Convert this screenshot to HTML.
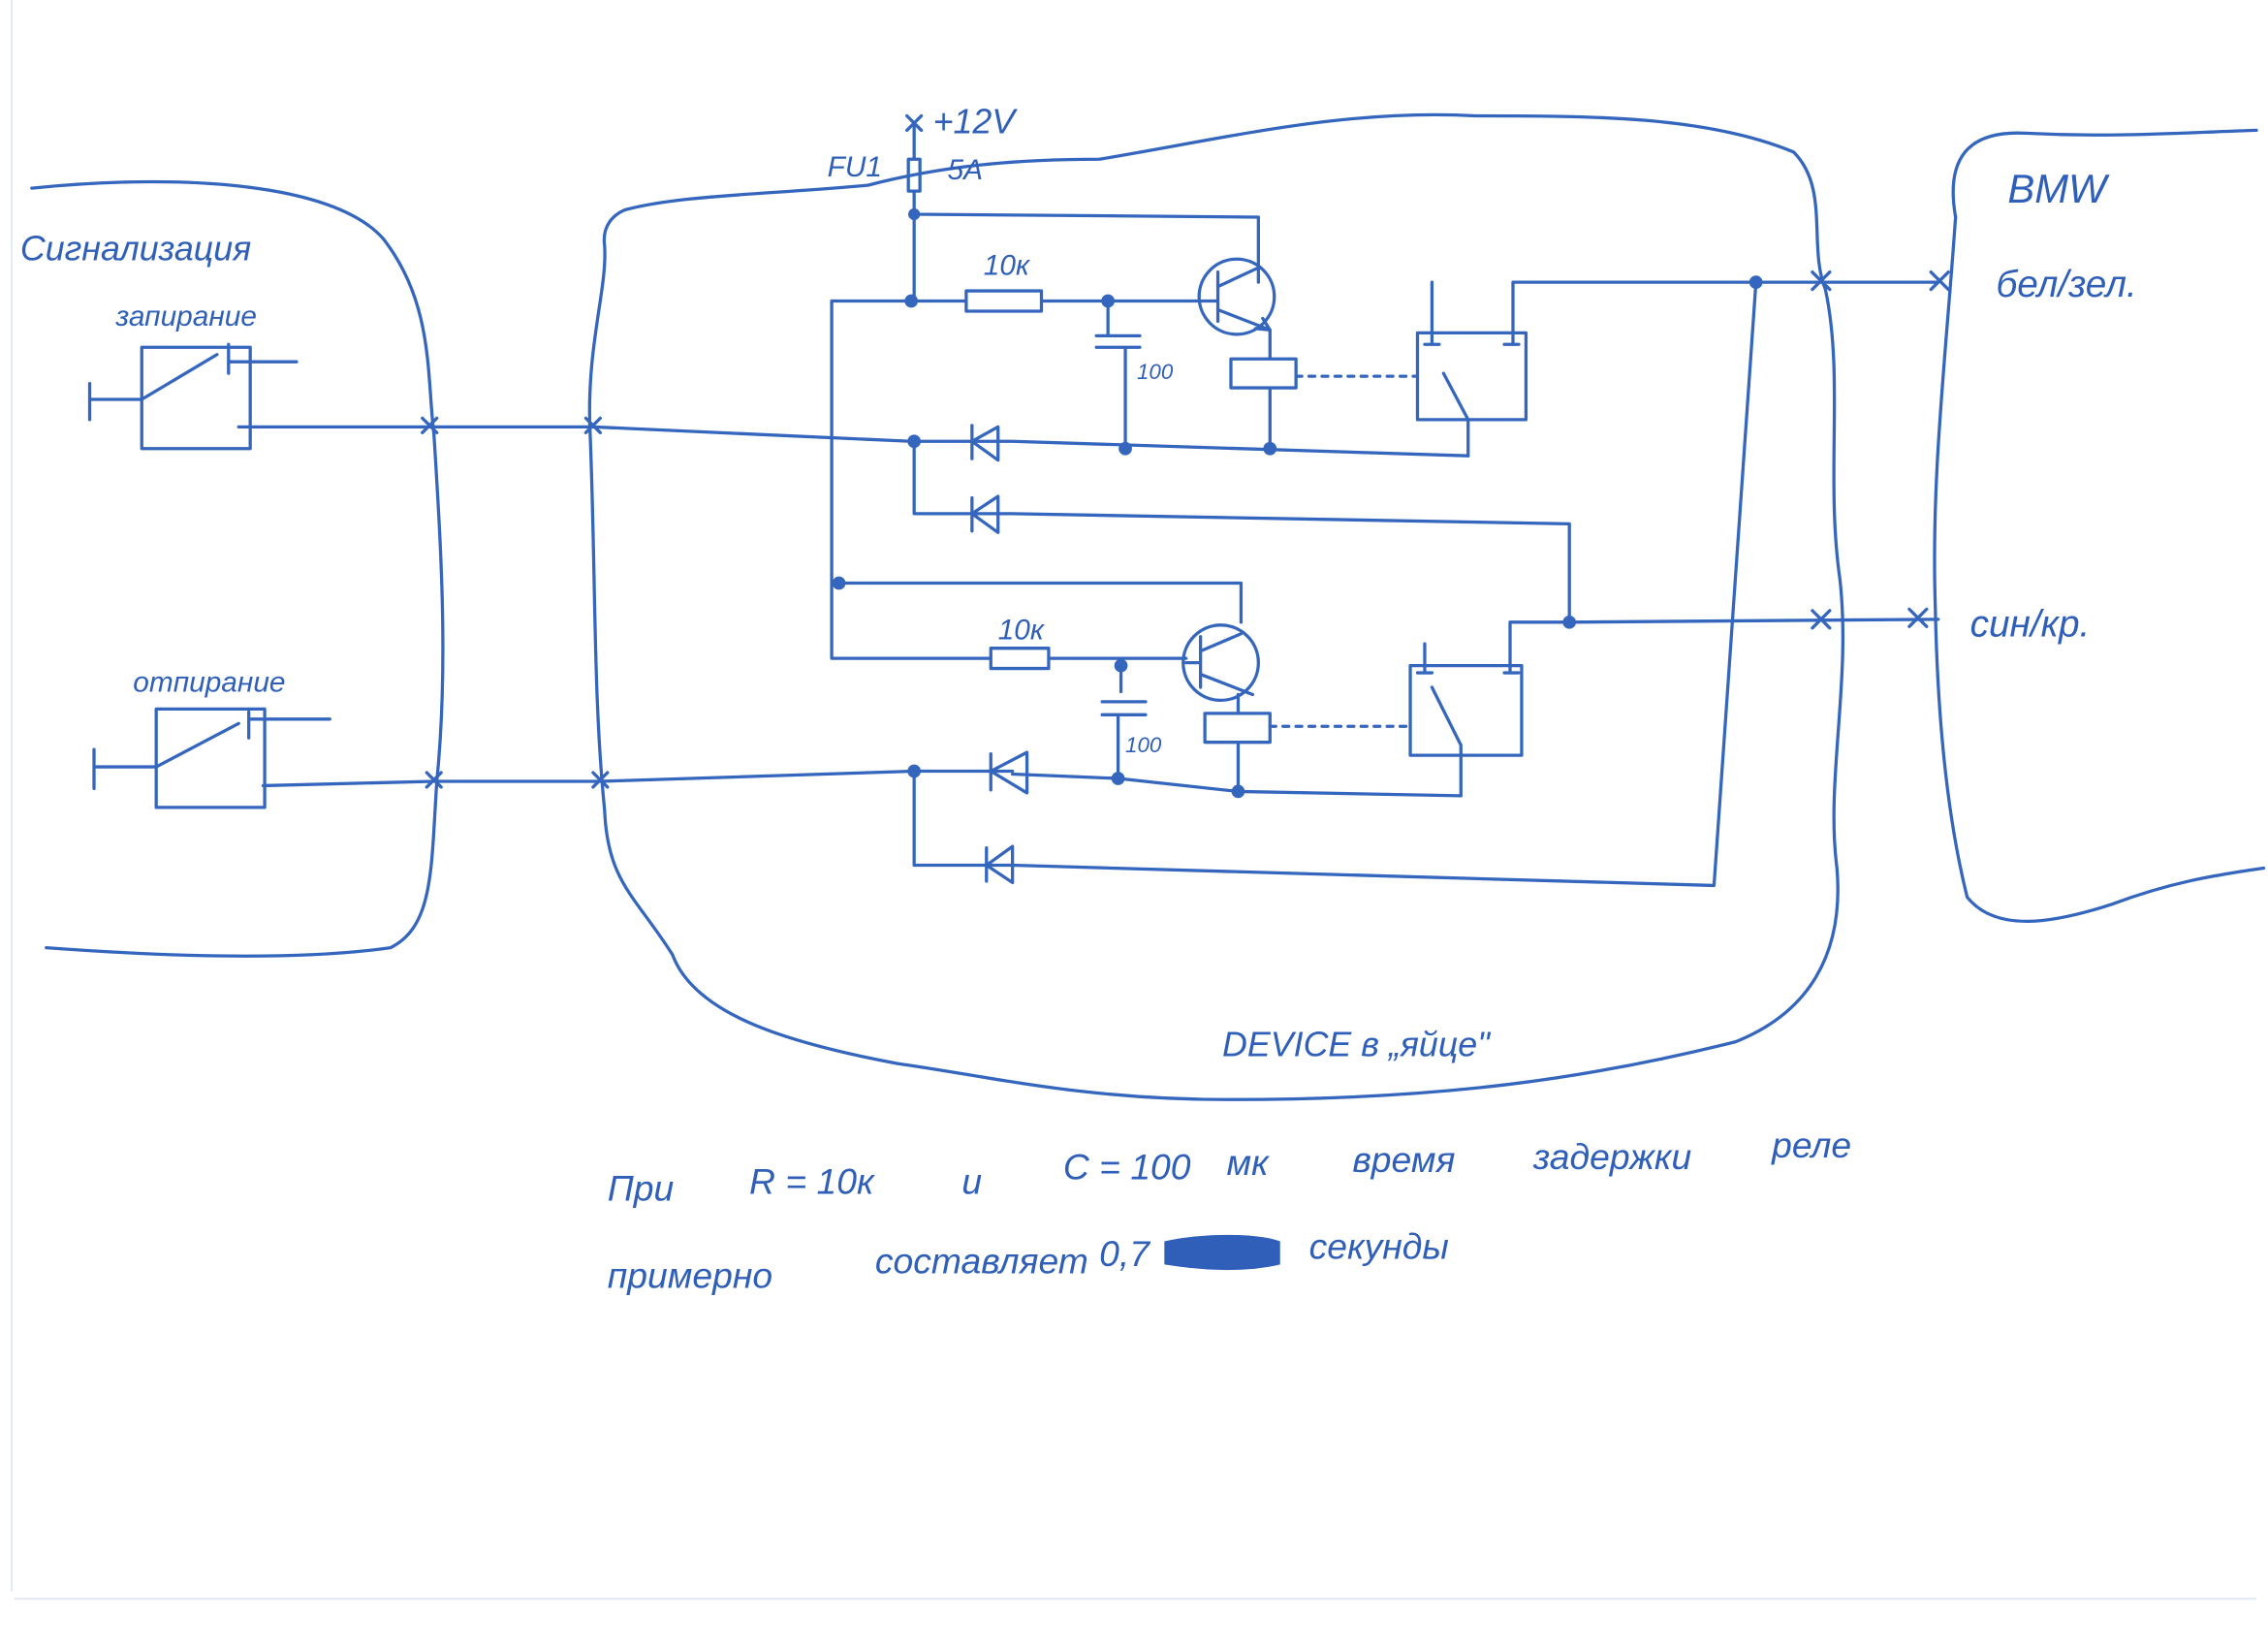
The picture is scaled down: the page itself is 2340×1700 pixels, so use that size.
<!DOCTYPE html>
<html><head><meta charset="utf-8"><style>
html,body{margin:0;padding:0;background:#fff;}
svg{display:block;}
text{font-family:"Liberation Sans","DejaVu Sans",sans-serif;fill:#2f5fb8;font-style:italic;}
</style></head><body>
<svg width="2340" height="1700" viewBox="0 0 1568 1139" xmlns="http://www.w3.org/2000/svg">
<rect width="1568" height="1139" fill="#fff"/>
<path d="M8,0 V1100 M10,1105 H1560" stroke="#e4ebf3" stroke-width="1.5" fill="none"/>
<g fill="none" stroke="#3566bd" stroke-width="2.2" stroke-linecap="round" stroke-linejoin="round">
<path d="M22,130 C120,120 230,125 265,165 C300,210 295,260 300,300 C305,380 310,460 302,540 C298,600 300,640 270,655 C200,665 100,660 32,655"/>
<path d="M432,145 C470,135 520,135 600,128 C650,115 700,110 760,110 C850,95 930,75 1020,80 C1100,80 1180,80 1240,105 C1265,130 1250,170 1262,200 C1275,260 1262,330 1272,400 C1280,470 1262,540 1270,600 C1275,660 1250,700 1200,720 C1100,745 1000,760 850,760 C750,760 690,745 620,735 C540,720 480,700 465,660 C440,620 420,610 418,560 C410,480 412,400 408,300 C405,240 420,200 418,170 C416,155 425,148 432,145"/>
<path d="M1352,150 C1345,110 1360,90 1400,92 C1460,95 1500,92 1560,90"/>
<path d="M1352,150 C1345,250 1335,330 1338,420 C1340,520 1350,580 1360,620 C1380,645 1420,638 1460,625 C1500,610 1530,605 1565,600"/>
<path d="M632,85 L632,110 M628,110 h8 v22 h-8 z M632,132 L632,148 L870,150 L870,195"/>
<circle cx="632" cy="148" r="3" fill="#3566bd"/>
<path d="M632,148 V208 M575,208 H668 M668,201 h52 v14 h-52 z M720,208 H830"/>
<circle cx="630" cy="208" r="3.5" fill="#3566bd"/>
<circle cx="766" cy="208" r="3.5" fill="#3566bd"/>
<circle cx="855" cy="205" r="26"/>
<path d="M842,188 V222 M830,208 H842 M842,198 L870,185 M842,214 L878,228 M878,228 l-10,-1 M878,228 l-5,-8"/>
<path d="M766,208 V232 M758,232 H788 M758,240 H788 M778,240 V310"/>
<path d="M878,228 V248 M851,248 h45 v20 h-45 z M878,268 V310"/>
<path d="M896,260 H980" stroke-dasharray="4,5"/>
<path d="M980,230 h75 v60 h-75 z M990,195 V238 M985,238 h10 M1046,195 V238 M1040,238 h10 M998,258 L1015,290 M1015,290 V315 M1046,195 H1215 L1340,195"/>
<circle cx="1214" cy="195" r="3.5" fill="#3566bd"/>
<path d="M62,265 V290 M62,276 H98 M98,240 h75 v70 h-75 z M98,276 L150,245 M158,238 V258 M158,250 H205 M165,295 L300,295 L410,295 L630,305 M630,305 H700 M690,295 V318 L672,305 Z M672,294 V317 M700,305 L1015,315"/>
<circle cx="632" cy="305" r="3.5" fill="#3566bd"/>
<circle cx="778" cy="310" r="3.5" fill="#3566bd"/>
<circle cx="878" cy="310" r="3.5" fill="#3566bd"/>
<path d="M632,305 V355 H700 M690,343 V368 L672,355 Z M672,344 V367 M700,355 L1085,362 V430"/>
<path d="M575,208 V455 H685 M685,448 h40 v14 h-40 z M725,455 H820 M580,403 H858 V430"/>
<circle cx="580" cy="403" r="3.5" fill="#3566bd"/>
<circle cx="844" cy="458" r="26"/>
<path d="M830,440 V475 M820,458 H830 M830,450 L858,438 M830,466 L866,480"/>
<path d="M775,460 V478 M762,485 H792 M762,494 H792 M773,494 V540"/>
<circle cx="775" cy="460" r="3.5" fill="#3566bd"/>
<path d="M856,480 V493 M833,493 h45 v20 h-45 z M856,513 V547"/>
<path d="M878,502 H975" stroke-dasharray="4,5"/>
<path d="M975,460 h77 v62 h-77 z M985,445 V465 M980,465 h10 M1044,430 V465 M1040,465 h10 M990,475 L1010,515 M1010,515 V550 M1044,430 H1085 L1340,428"/>
<circle cx="1085" cy="430" r="3.5" fill="#3566bd"/>
<path d="M65,518 V545 M65,530 H108 M108,490 h75 v68 h-75 z M108,530 L165,500 M172,492 V510 M172,497 H228 M182,543 L300,540 L415,540 L632,533 M632,533 H700 M710,520 V548 L685,533 Z M685,521 V546 M700,535 L773,538 L856,547 L1010,550"/>
<circle cx="632" cy="533" r="3.5" fill="#3566bd"/>
<circle cx="773" cy="538" r="3.5" fill="#3566bd"/>
<circle cx="856" cy="547" r="3.5" fill="#3566bd"/>
<path d="M632,533 V598 H700 M700,585 V610 L682,598 Z M682,586 V609 M700,598 L1185,612 L1214,195"/>
<path d="M292,289 l10,10 M302,289 l-10,10 M405,289 l10,10 M415,289 l-10,10 M295,534 l10,10 M305,534 l-10,10 M410,534 l10,10 M420,534 l-10,10 M1253,188 l12,12 M1265,188 l-12,12 M1335,188 l12,12 M1347,188 l-12,12 M1253,422 l12,12 M1265,422 l-12,12 M1320,421 l12,12 M1332,421 l-12,12 M627,80 l10,10 M637,80 l-10,10"/>
</g>
<g font-size="20">
<text x="14" y="180" font-size="24">Сигнализация</text>
<text x="80" y="225">запирание</text>
<text x="92" y="478">отпирание</text>
<text x="645" y="92" font-size="24" font-style="normal">+12V</text>
<text x="572" y="122" font-style="normal">FU1</text>
<text x="655" y="124" font-style="normal">5A</text>
<text x="680" y="190">10к</text>
<text x="690" y="442">10к</text>
<text x="786" y="262" font-size="15">100</text>
<text x="778" y="520" font-size="15">100</text>
<text x="1388" y="140" font-size="28" font-style="normal">BMW</text>
<text x="1380" y="205" font-size="26">бел/зел.</text>
<text x="1362" y="440" font-size="26">син/кр.</text>
<text x="845" y="730" font-size="24" font-style="normal">DEVICE  в „яйце"</text>
</g>
<g font-size="25">
<text x="420" y="830">При</text>
<text x="518" y="825">R = 10к</text>
<text x="665" y="825">и</text>
<text x="735" y="815">С = 100</text>
<text x="848" y="812">мк</text>
<text x="935" y="810">время</text>
<text x="1060" y="808">задержки</text>
<text x="1225" y="800">реле</text>
<text x="420" y="890">примерно</text>
<text x="605" y="880">составляет</text>
<text x="760" y="875">0,7</text>
<text x="905" y="870">секунды</text>
</g>
<path d="M805,858 C830,852 870,852 885,858 L885,874 C860,880 830,878 805,874 Z" fill="#2f5fb8"/>
</svg>
</body></html>
